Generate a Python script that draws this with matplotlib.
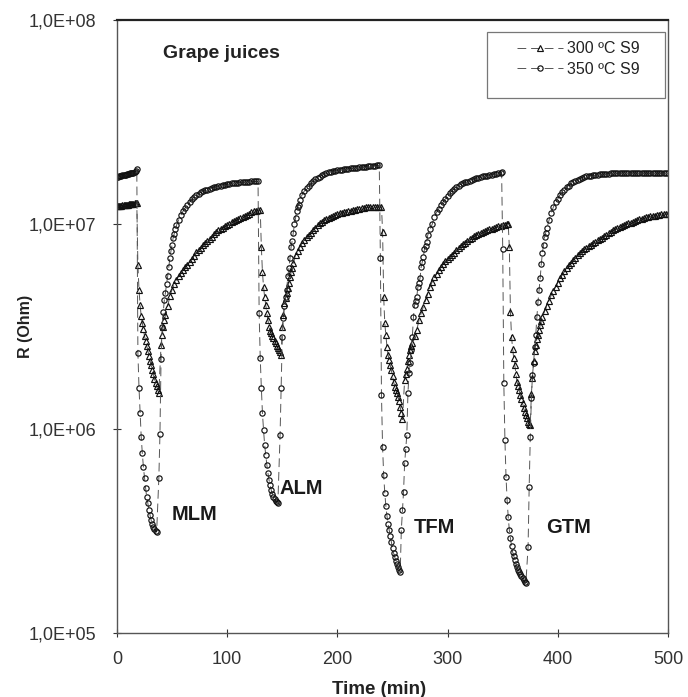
import numpy as np
import matplotlib.pyplot as plt
from matplotlib.patches import Rectangle
from matplotlib.ticker import FixedLocator, FuncFormatter, NullLocator

plt.rcParams['font.family'] = ['Liberation Sans', 'DejaVu Sans']

# Sensor resistance in grape juices, log10(R / Ohm) against time (min).
# Each cycle: exposure drop, fast return, slow recovery.

# 300 ºC S9 (triangles)
t300_cycle1 = list(range(0, 39)) + list(range(40, 45)) + list(range(46, 131, 2))
r300_cycle1 = [7.09, 7.09, 7.09, 7.092, 7.092, 7.094, 7.094, 7.095, 7.095, 7.096,
               7.097, 7.098, 7.099, 7.1, 7.1, 7.101, 7.102, 7.103, 7.104,
               6.80, 6.68, 6.605, 6.55, 6.517, 6.487, 6.453, 6.429, 6.404, 6.38,
               6.355, 6.331, 6.311, 6.287, 6.267, 6.243, 6.223, 6.208, 6.189, 6.174,
               6.41, 6.46, 6.50, 6.53, 6.555,
               6.60, 6.648, 6.68, 6.708, 6.73, 6.746, 6.76, 6.775, 6.789, 6.803,
               6.817, 6.83, 6.845, 6.863, 6.874, 6.886, 6.898, 6.909, 6.919, 6.93,
               6.94, 6.951, 6.962, 6.97, 6.977, 6.984, 6.991, 6.998, 7.004, 7.01,
               7.016, 7.021, 7.026, 7.031, 7.036, 7.042, 7.047, 7.052, 7.058, 7.063,
               7.067, 7.069, 7.07]

t300_cycle2 = list(range(131, 150)) + list(range(150, 161)) + list(range(162, 241, 2))
r300_cycle2 = [6.889, 6.766, 6.693, 6.644, 6.605, 6.566, 6.532, 6.497, 6.48, 6.468,
               6.455, 6.443, 6.43, 6.419, 6.405, 6.394, 6.385, 6.375, 6.36,
               6.497, 6.556, 6.615, 6.64, 6.664, 6.69, 6.715, 6.742, 6.765, 6.785, 6.81,
               6.85, 6.87, 6.89, 6.91, 6.923, 6.938, 6.95, 6.96, 6.972, 6.983,
               6.995, 7.005, 7.013, 7.02, 7.026, 7.033, 7.038, 7.042, 7.046, 7.05,
               7.054, 7.057, 7.06, 7.062, 7.065, 7.067, 7.07, 7.072, 7.074, 7.076,
               7.078, 7.08, 7.083, 7.084, 7.085, 7.085, 7.086, 7.086, 7.086, 7.086]

t300_cycle3 = list(range(241, 260)) + list(range(261, 269)) + list(range(270, 355, 2))
r300_cycle3 = [6.964, 6.645, 6.515, 6.46, 6.40, 6.36, 6.338, 6.31, 6.285, 6.256,
               6.23, 6.205, 6.19, 6.175, 6.155, 6.135, 6.105, 6.075, 6.045,
               6.238, 6.27, 6.29, 6.33, 6.36, 6.387, 6.405, 6.42,
               6.455, 6.483, 6.53, 6.565, 6.597, 6.63, 6.66, 6.695, 6.718, 6.74,
               6.758, 6.776, 6.79, 6.805, 6.82, 6.83, 6.842, 6.852, 6.862, 6.874,
               6.885, 6.894, 6.902, 6.91, 6.918, 6.926, 6.934, 6.942, 6.948, 6.954,
               6.959, 6.963, 6.967, 6.971, 6.975, 6.978, 6.982, 6.986, 6.99, 6.993,
               6.996, 6.998, 7.0]

t300_cycle4 = list(range(355, 376)) + list(range(376, 387)) + list(range(388, 501, 2))
r300_cycle4 = [7.0, 6.889, 6.572, 6.45, 6.39, 6.345, 6.31, 6.27, 6.228, 6.21,
               6.19, 6.165, 6.145, 6.125, 6.10, 6.08, 6.065, 6.05, 6.035, 6.025, 6.018,
               6.17, 6.25, 6.33, 6.38, 6.41, 6.44, 6.46, 6.485, 6.505, 6.525, 6.545,
               6.575, 6.60, 6.627, 6.653, 6.675, 6.695, 6.715, 6.735, 6.752, 6.77,
               6.785, 6.80, 6.812, 6.825, 6.837, 6.848, 6.858, 6.868, 6.878, 6.886,
               6.893, 6.90, 6.907, 6.914, 6.921, 6.928, 6.935, 6.942, 6.949, 6.956,
               6.963, 6.97, 6.976, 6.981, 6.987, 6.993, 6.997, 7.001, 7.005, 7.009,
               7.013, 7.017, 7.021, 7.025, 7.028, 7.031, 7.034, 7.037, 7.039, 7.041,
               7.043, 7.045, 7.047, 7.049, 7.05, 7.051, 7.052]

# 350 ºC S9 (circles)
t350_cycle1 = list(range(0, 37)) + list(range(38, 55)) + list(range(56, 129, 2))
r350_cycle1 = [7.23, 7.23, 7.235, 7.235, 7.235, 7.24, 7.24, 7.24, 7.24, 7.245,
               7.245, 7.245, 7.25, 7.25, 7.25, 7.25, 7.255, 7.26, 7.27,
               6.37, 6.20, 6.076, 5.96, 5.88, 5.812, 5.758, 5.709, 5.665, 5.636,
               5.602, 5.577, 5.553, 5.533, 5.518, 5.508, 5.499, 5.494,
               5.758, 5.974, 6.34, 6.50, 6.572, 6.63, 6.665, 6.71, 6.745, 6.79,
               6.835, 6.87, 6.90, 6.935, 6.955, 6.975, 6.995,
               7.022, 7.045, 7.065, 7.082, 7.096, 7.11, 7.122, 7.133, 7.143, 7.150,
               7.156, 7.161, 7.166, 7.170, 7.174, 7.178, 7.181, 7.184, 7.187, 7.190,
               7.192, 7.194, 7.196, 7.198, 7.200, 7.201, 7.203, 7.204, 7.205, 7.206,
               7.207, 7.208, 7.209, 7.21, 7.21, 7.21, 7.21]

t350_cycle2 = list(range(129, 147)) + list(range(148, 167)) + list(range(168, 239, 2))
r350_cycle2 = [6.566, 6.345, 6.199, 6.076, 5.993, 5.92, 5.871, 5.822, 5.783, 5.748,
               5.724, 5.699, 5.68, 5.665, 5.655, 5.645, 5.64, 5.637,
               5.97, 6.20, 6.45, 6.54, 6.60, 6.645, 6.68, 6.745, 6.785, 6.834,
               6.89, 6.92, 6.96, 7.00, 7.03, 7.065, 7.085, 7.097, 7.12,
               7.145, 7.163, 7.178, 7.19, 7.20, 7.21, 7.222, 7.228, 7.234, 7.24,
               7.245, 7.25, 7.255, 7.258, 7.261, 7.263, 7.265, 7.266, 7.268, 7.27,
               7.271, 7.273, 7.274, 7.275, 7.277, 7.278, 7.279, 7.28, 7.281, 7.283,
               7.284, 7.285, 7.286, 7.287, 7.288, 7.29]

t350_cycle3 = list(range(239, 258)) + list(range(258, 283)) + list(range(284, 349, 2))
r350_cycle3 = [6.835, 6.164, 5.91, 5.773, 5.685, 5.621, 5.572, 5.533, 5.504, 5.474,
               5.445, 5.415, 5.391, 5.371, 5.352, 5.337, 5.322, 5.308, 5.298,
               5.504, 5.60, 5.69, 5.83, 5.90, 5.97, 6.174, 6.272, 6.32, 6.385,
               6.45, 6.546, 6.605, 6.625, 6.644, 6.693, 6.715, 6.737, 6.791, 6.815,
               6.84, 6.88, 6.895, 6.913, 6.948,
               6.975, 7.0, 7.036, 7.06, 7.077, 7.095, 7.11, 7.125, 7.14, 7.153,
               7.163, 7.174, 7.183, 7.19, 7.196, 7.201, 7.205, 7.209, 7.213, 7.217,
               7.221, 7.226, 7.229, 7.232, 7.235, 7.237, 7.239, 7.241, 7.243, 7.245,
               7.247, 7.25, 7.253]

t350_cycle4 = list(range(349, 372)) + list(range(373, 391)) + list(range(392, 501, 2))
r350_cycle4 = [7.256, 6.879, 6.223, 5.944, 5.763, 5.65, 5.567, 5.504, 5.464, 5.425,
               5.396, 5.376, 5.357, 5.337, 5.322, 5.308, 5.298, 5.288, 5.278, 5.269,
               5.259, 5.249, 5.244,
               5.42, 5.714, 5.959, 6.15, 6.262, 6.32, 6.40, 6.46, 6.546, 6.62,
               6.678, 6.737, 6.806, 6.86, 6.90, 6.938, 6.96, 6.98,
               7.02, 7.055, 7.085, 7.108, 7.125, 7.145, 7.158, 7.17, 7.183, 7.19,
               7.2, 7.207, 7.213, 7.219, 7.224, 7.229, 7.232, 7.235, 7.237, 7.239,
               7.24, 7.241, 7.242, 7.244, 7.245, 7.246, 7.247, 7.248, 7.249, 7.25,
               7.251, 7.25, 7.251, 7.252, 7.251, 7.25, 7.251, 7.252, 7.252, 7.251,
               7.25, 7.251, 7.252, 7.251, 7.251, 7.25, 7.251, 7.252, 7.251, 7.25,
               7.251, 7.251, 7.252, 7.251, 7.25]

cycle_names = ['MLM', 'ALM', 'TFM', 'GTM']
series_names = ['300 ºC S9', '350 ºC S9']

t300 = np.array(t300_cycle1 + t300_cycle2 + t300_cycle3 + t300_cycle4)
r300 = 10 ** np.array(r300_cycle1 + r300_cycle2 + r300_cycle3 + r300_cycle4)
t350 = np.array(t350_cycle1 + t350_cycle2 + t350_cycle3 + t350_cycle4)
r350 = 10 ** np.array(r350_cycle1 + r350_cycle2 + r350_cycle3 + r350_cycle4)

fig = plt.figure(figsize=(6.88, 6.97), dpi=100)
ax = fig.add_axes([0.170, 0.0918, 0.801, 0.8795])

line_kw = dict(color='#555555', lw=0.7, dashes=(9, 5), mfc='none',
               mec='#111111', mew=0.85)
ax.plot(t300, r300, marker='^', ms=5.0, label=series_names[0], **line_kw)
ax.plot(t350, r350, marker='o', ms=3.8, label=series_names[1], **line_kw)

ax.set_yscale('log')
ax.set_ylim(1e5, 1e8)
ax.set_xlim(0, 500)
ax.yaxis.set_major_locator(FixedLocator([1e5, 1e6, 1e7, 1e8]))
ax.yaxis.set_major_formatter(
    FuncFormatter(lambda v, _: '1,0E+%02d' % int(round(np.log10(v)))))
ax.yaxis.set_minor_locator(NullLocator())
ax.set_xticks(range(0, 501, 100))

ax.tick_params(direction='inout', length=6, width=0.8, labelsize=13,
               colors='#333333')
ax.tick_params(axis='y', pad=12)
ax.tick_params(axis='x', pad=10)
for side in ['left', 'bottom', 'right']:
    ax.spines[side].set_color('#555555')
    ax.spines[side].set_linewidth(1.0)
ax.spines['top'].set_color('#222222')
ax.spines['top'].set_linewidth(1.6)

ax.set_xlabel('Time (min)', fontsize=13.5, fontweight='bold', color='#222222')
ax.set_ylabel('R (Ohm)', fontsize=11.5, fontweight='bold', color='#222222')
ax.xaxis.set_label_coords(0.4755, -0.078)
ax.yaxis.set_label_coords(-0.152, 0.50)

ax.text(0.0835, 0.946, 'Grape juices', transform=ax.transAxes,
        fontsize=14, fontweight='bold', va='center', color='#222222')

label_pos = [(70, 3.8e5), (167, 5.1e5), (288, 3.3e5), (410, 3.3e5)]
for name, (x, y) in zip(cycle_names, label_pos):
    ax.text(x, y, name, ha='center', va='center', fontsize=14.5,
            fontweight='bold', color='#1a1a1a')

# legend with a plain square box
ax.add_patch(Rectangle((0.671, 0.873), 0.3236, 0.107, transform=ax.transAxes,
                       fill=False, edgecolor='#777777', lw=0.9, zorder=5))
ax.legend(loc='upper left', bbox_to_anchor=(0.726, 0.965), frameon=False,
          fontsize=11.5, handlelength=2.9, handletextpad=0.25,
          labelspacing=0.35, borderpad=0, borderaxespad=0, numpoints=1,
          labelcolor='#222222')

fig.savefig('out.png', dpi=100)
